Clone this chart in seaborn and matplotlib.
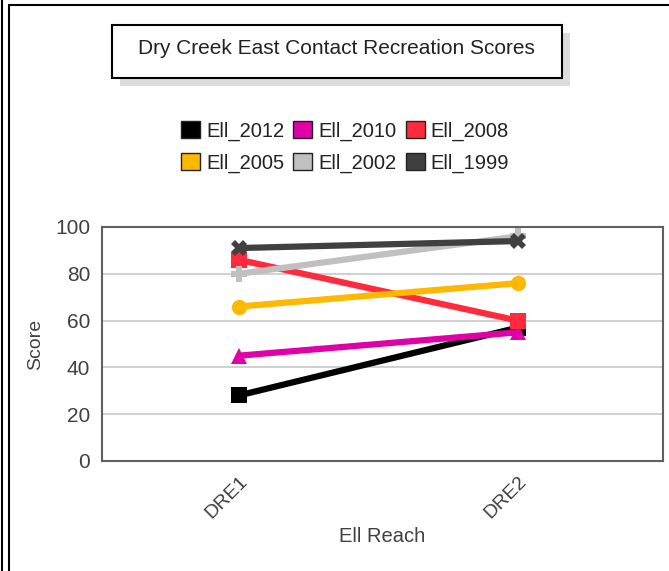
import pandas as pd
import seaborn as sns
import matplotlib.pyplot as plt
from matplotlib.patches import Patch, Rectangle
from matplotlib.lines import Line2D

# Dados
reaches = ["DRE1", "DRE2"]
series = ["Ell_2012", "Ell_2010", "Ell_2008", "Ell_2005", "Ell_2002", "Ell_1999"]
ell_2012 = [28, 57]
ell_2010 = [45, 55]
ell_2008 = [86, 60]
ell_2005 = [66, 76]
ell_2002 = [80, 96]
ell_1999 = [91, 94]

cores = {"Ell_2012": "#000000", "Ell_2010": "#e000a8", "Ell_2008": "#ff2a3c",
         "Ell_2005": "#ffb800", "Ell_2002": "#c0c0c0", "Ell_1999": "#404040"}
marcadores = {"Ell_2012": "s", "Ell_2010": "^", "Ell_2008": "s",
              "Ell_2005": "o", "Ell_2002": "P", "Ell_1999": "X"}

valores = [ell_2012, ell_2010, ell_2008, ell_2005, ell_2002, ell_1999]
linhas = []
for nome, vals in zip(series, valores):
    for r, v in zip(reaches, vals):
        linhas.append({"Ell Reach": r, "Score": v, "serie": nome})
df = pd.DataFrame(linhas)

sns.set_style("white")
plt.rcParams["font.family"] = ["Liberation Sans", "DejaVu Sans"]

fig = plt.figure(figsize=(6.69, 5.71), dpi=100)
ax = fig.add_axes([102 / 669, 1 - 461 / 571, 561 / 669, 234 / 571])

# 2012 desenhado primeiro, 1999 por cima
sns.lineplot(data=df, x="Ell Reach", y="Score", hue="serie", style="serie",
             hue_order=series, style_order=series, palette=cores,
             markers=marcadores, dashes=False, linewidth=4.5, markersize=11,
             markeredgewidth=0, legend=False, ax=ax, sort=False)

ax.set_ylim(0, 100)
ax.set_yticks([0, 20, 40, 60, 80, 100])
ax.set_xlim(-0.49, 1.52)
ax.set_xticks([0, 1])
ax.set_xticklabels(reaches, rotation=45, ha="right", rotation_mode="anchor",
                   fontsize=14, color="#404040")
ax.tick_params(axis="y", labelsize=15, colors="#404040", length=5, width=1.2)
ax.tick_params(axis="x", length=5, width=1.2, colors="#404040")
ax.yaxis.grid(True, color="#c8c8c8", linewidth=1.2)
ax.set_axisbelow(True)
for s in ax.spines.values():
    s.set_color("#606060")
    s.set_linewidth(1.5)
ax.set_ylabel("Score", fontsize=14, color="#404040", labelpad=8)
ax.set_xlabel("Ell Reach", fontsize=14.5, color="#404040", labelpad=4)

# caixa do título com sombra
fig.patches.append(Rectangle((120 / 669, 1 - 86 / 571), 450 / 669, 53 / 571,
                             transform=fig.transFigure, facecolor="#dcdcdc",
                             edgecolor="none", zorder=1))
fig.patches.append(Rectangle((112 / 669, 1 - 78 / 571), 450 / 669, 53 / 571,
                             transform=fig.transFigure, facecolor="white",
                             edgecolor="#000000", linewidth=1.5, zorder=2))
fig.text(336 / 669, 1 - 48 / 571, "Dry Creek East Contact Recreation Scores",
         ha="center", va="center", fontsize=15, color="#222222", zorder=3)

# legenda (ordem coluna a coluna para obter linhas 2012/2010/2008 e 2005/2002/1999)
ordem_leg = ["Ell_2012", "Ell_2005", "Ell_2010", "Ell_2002", "Ell_2008", "Ell_1999"]
handles = [Patch(facecolor=cores[n], edgecolor="#222222", linewidth=1) for n in ordem_leg]
fig.legend(handles, ordem_leg, loc="center", bbox_to_anchor=(345 / 669, 1 - 147 / 571),
           ncol=3, frameon=False, fontsize=14.5, handlelength=0.95, handleheight=0.95,
           handletextpad=0.3, columnspacing=0.45, labelspacing=0.6,
           labelcolor="#222222")

# moldura externa
fig.add_artist(Line2D([2 / 669, 2 / 669], [0, 1], transform=fig.transFigure,
                      color="black", linewidth=1.5))
fig.add_artist(Line2D([9 / 669, 9 / 669], [0, 1 - 5 / 571], transform=fig.transFigure,
                      color="black", linewidth=1.5))
fig.add_artist(Line2D([9 / 669, 1], [1 - 5 / 571, 1 - 5 / 571], transform=fig.transFigure,
                      color="black", linewidth=1.5))

fig.savefig("out.png", dpi=100)
